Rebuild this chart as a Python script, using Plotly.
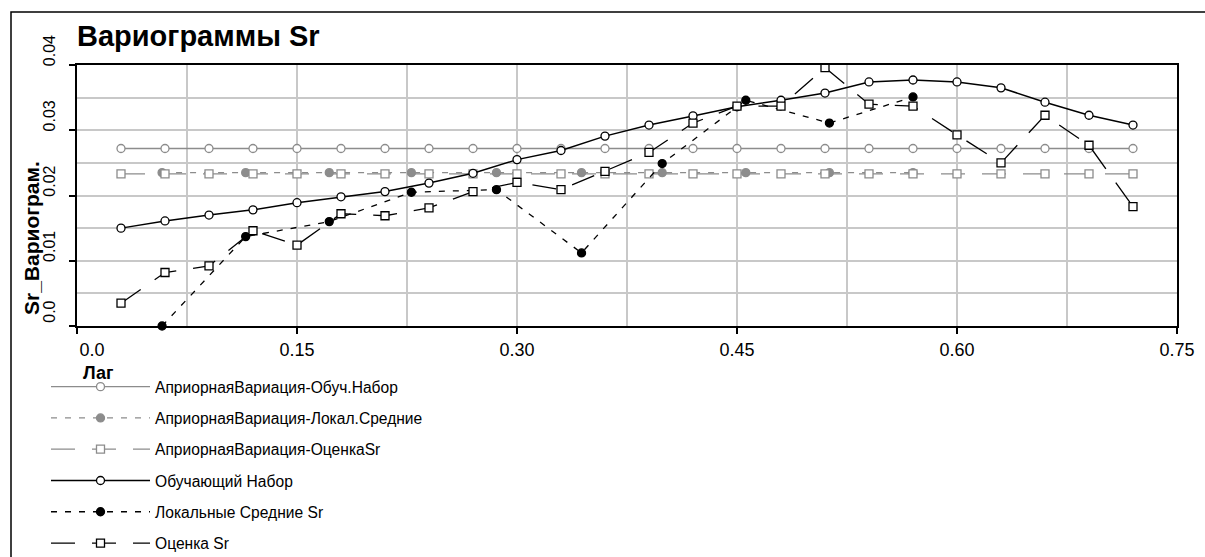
import plotly.graph_objects as go

# ---- data ----
lag_train = [0.030, 0.060, 0.090, 0.120, 0.150, 0.180, 0.210, 0.240, 0.270, 0.300, 0.330, 0.360,
             0.390, 0.420, 0.450, 0.480, 0.510, 0.540, 0.570, 0.600, 0.630, 0.660, 0.690, 0.720]
train_set = [0.0150, 0.0161, 0.0170, 0.0178, 0.0189, 0.0198, 0.0206, 0.0219, 0.0234, 0.0255, 0.0269, 0.0291,
             0.0308, 0.0322, 0.0336, 0.0346, 0.0357, 0.0374, 0.0377, 0.0374, 0.0365, 0.0343, 0.0323, 0.0308]
estimate_sr = [0.0035, 0.0082, 0.0092, 0.0146, 0.0124, 0.0172, 0.0169, 0.0181, 0.0206, 0.0220, 0.0209, 0.0237,
               0.0266, 0.0311, 0.0337, 0.0337, 0.0396, 0.0340, 0.0337, 0.0293, 0.0250, 0.0323, 0.0277, 0.0183]
prior_train = [0.0272] * len(lag_train)
prior_estimate = [0.0233] * len(lag_train)

lag_local = [0.058, 0.115, 0.172, 0.228, 0.286, 0.344, 0.399, 0.456, 0.513, 0.570]
local_means = [0.0000, 0.0137, 0.0160, 0.0205, 0.0209, 0.0112, 0.0249, 0.0346, 0.0311, 0.0351]
prior_local = [0.0235] * len(lag_local)

names = ["АприорнаяВариация-Обуч.Набор", "АприорнаяВариация-Локал.Средние", "АприорнаяВариация-ОценкаSr",
         "Обучающий Набор", "Локальные Средние Sr", "Оценка Sr"]

x_ticks = [0.0, 0.15, 0.30, 0.45, 0.60, 0.75]
x_ticktext = ["\u00a0\u00a0\u00a0\u00a0\u00a0\u00a00.0", "0.15", "0.30", "0.45", "0.60", "0.75"]
y_ticks = [0.0, 0.01, 0.02, 0.03, 0.04]
y_ticktext = ["0.0", "0.01", "0.02", "0.03", "0.04"]

GRAY = "#8c8c8c"
FONT = "Liberation Sans, Arial, sans-serif"
W, H = 1205, 557

fig = go.Figure()

def add(x, y, name, color, dash, symbol, fill, width=1.3, size=8):
    fig.add_trace(go.Scatter(
        x=x, y=y, name=name, mode="lines+markers", legendgroup=name,
        line=dict(color=color, width=width, dash=dash),
        marker=dict(symbol=symbol, size=size, color=fill, line=dict(color=color, width=1.3)),
        cliponaxis=False,
    ))

add(lag_train, prior_train, names[0], GRAY, "solid", "circle", "white")
add(lag_local, prior_local, names[1], GRAY, "6px,8px", "circle", GRAY)
add(lag_train, prior_estimate, names[2], GRAY, "24px,17px", "square", "white")
add(lag_train, train_set, names[3], "black", "solid", "circle", "white", width=1.5)
add(lag_local, local_means, names[4], "black", "6px,8px", "circle", "black")
add(lag_train, estimate_sr, names[5], "black", "24px,17px", "square", "white")

PW, PH = 1100, 261
L, T = 77, 65

def px_x(p):
    return (p - L) / PW

def px_y(p):
    return (T + PH - p) / PH

fig.update_layout(
    width=W, height=H,
    margin=dict(l=L, r=W - L - PW, t=T, b=H - T - PH, pad=0, autoexpand=False),
    paper_bgcolor="white", plot_bgcolor="white",
    font=dict(family=FONT, color="black"),
    title=dict(text="<b>Вариограммы Sr</b>", xref="container", x=L / W, xanchor="left",
               yref="container", y=1 - 36 / H, yanchor="middle", automargin=False,
               font=dict(size=29, family=FONT, color="black")),
    showlegend=True,
    legend=dict(x=46 / W, y=1 - 370 / H, xanchor="left", yanchor="top",
                xref="container", yref="container", orientation="v",
                font=dict(size=15.6, family=FONT, color="black"),
                itemwidth=99, tracegroupgap=8, bgcolor="rgba(0,0,0,0)",
                itemclick=False),
    xaxis=dict(range=[0, 0.75], tickvals=x_ticks, ticktext=x_ticktext, automargin=False,
               showline=True, linecolor="black", linewidth=2, mirror=True,
               ticks="outside", ticklen=6, tickwidth=2, tickcolor="black",
               tickfont=dict(size=18, family=FONT),
               showgrid=True, gridcolor="#c8c8c8", gridwidth=1.5, zeroline=False,
               minor=dict(dtick=0.075, tick0=0, showgrid=True, gridcolor="#c8c8c8", gridwidth=1.5, ticks="")),
    yaxis=dict(range=[0, 0.04], tickvals=y_ticks, ticktext=y_ticktext, tickangle=-90, automargin=False,
               showline=True, linecolor="black", linewidth=2, mirror=True,
               ticks="outside", ticklen=6, tickwidth=2, tickcolor="black",
               tickfont=dict(size=16, family=FONT), ticklabelshift=-12, ticklabelstandoff=8,
               showgrid=True, gridcolor="#c8c8c8", gridwidth=1.5, zeroline=False,
               minor=dict(dtick=0.005, tick0=0, showgrid=True, gridcolor="#c8c8c8", gridwidth=1.5, ticks="")),
    annotations=[
        dict(text="<b>Sr_Вариограм.</b>", xref="paper", yref="paper", x=px_x(31), y=px_y(238),
             xanchor="center", yanchor="middle", textangle=-90, showarrow=False,
             font=dict(size=21, family=FONT, color="black")),
        dict(text="<b>Лаг</b>", xref="paper", yref="paper", x=px_x(98), y=px_y(373),
             xanchor="center", yanchor="middle", showarrow=False,
             font=dict(size=18, family=FONT, color="black")),
    ],
    shapes=[
        dict(type="rect", xref="paper", yref="paper", x0=px_x(11), x1=px_x(1240),
             y0=px_y(12), y1=px_y(620), line=dict(color="black", width=1.5), layer="below"),
    ],
)

fig.write_html("out.html", config={"displayModeBar": False},
               post_script="document.body.style.margin='0';document.body.style.overflow='hidden';")
